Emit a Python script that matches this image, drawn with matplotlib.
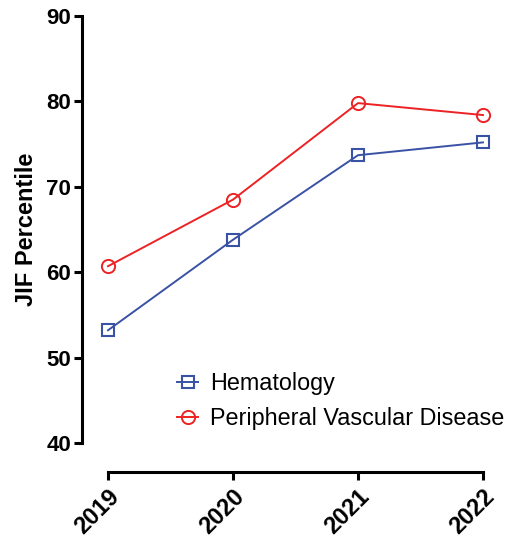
import matplotlib.pyplot as plt

plt.rcParams['font.family'] = ['Liberation Sans', 'DejaVu Sans']

years = ['2019', '2020', '2021', '2022']
hematology = [53.2, 63.8, 73.7, 75.2]
pvd = [60.7, 68.5, 79.8, 78.4]
y_ticks = [40, 50, 60, 70, 80, 90]

blue = '#3a52a4'
red = '#ed2224'

fig = plt.figure(figsize=(5.09, 5.39), dpi=100)
ax = fig.add_axes([108/509, 1 - 443/539, 375/509, 427/539])

# spines first - set_position resets tick labels
for s in ['top', 'right']:
    ax.spines[s].set_visible(False)
ax.spines['left'].set_position(('outward', 18.5))
ax.spines['bottom'].set_position(('outward', 21))
ax.spines['left'].set_linewidth(2.2)
ax.spines['bottom'].set_linewidth(2.2)

x = range(len(years))
ax.plot(x, hematology, color=blue, lw=1.4, marker='s', ms=8.5, mfc='none',
        mec=blue, mew=1.5, label='Hematology', clip_on=False)
ax.plot(x, pvd, color=red, lw=1.4, marker='o', ms=9.5, mfc='none',
        mec=red, mew=1.4, label='Peripheral Vascular Disease', clip_on=False)

ax.set_xlim(0, 3)
ax.set_ylim(40, 90)
ax.set_xticks(list(x))
ax.set_xticklabels(years, rotation=45, ha='right', rotation_mode='anchor',
                   fontsize=17, fontweight='bold')
ax.set_yticks(y_ticks)
ax.set_yticklabels([str(t) for t in y_ticks], fontsize=16, fontweight='bold')
ax.set_ylabel('JIF Percentile', fontsize=17, fontweight='bold', labelpad=6)

ax.tick_params(width=2.2, length=6, color='black')
ax.tick_params(axis='x', pad=3)
ax.tick_params(axis='y', pad=2)

ax.legend(loc='upper left', bbox_to_anchor=(0.16, 0.187), frameon=False,
          fontsize=16.8, handlelength=0.9, handletextpad=0.5, labelspacing=0.5,
          borderaxespad=0)

fig.savefig('out.png', dpi=100)
